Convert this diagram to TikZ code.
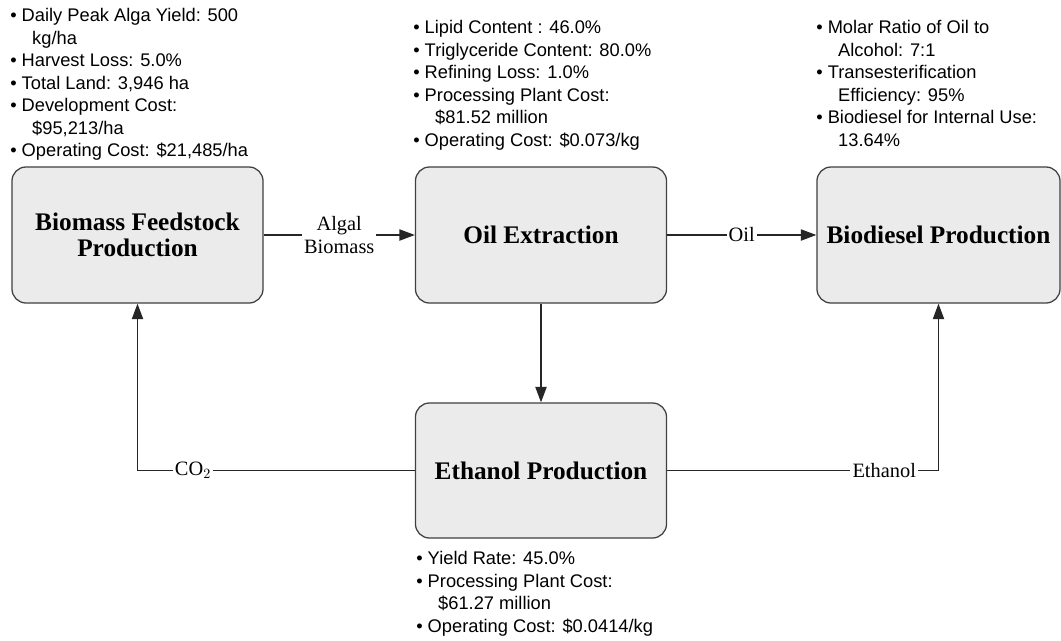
\documentclass[tikz,border=0pt]{standalone}
\usepackage{fontspec}
\setmainfont{Liberation Serif}
\setsansfont{Liberation Sans}
\usetikzlibrary{arrows.meta,positioning}

\newcommand{\wrapind}{\hspace*{1.2em}}

\tikzset{
  stage/.style={draw=black!75, fill=black!8, rounded corners=10pt, line width=0.9pt,
    minimum width=6.275cm, minimum height=3.4cm, align=center, inner sep=2pt,
    font=\fontsize{18}{19}\selectfont\bfseries},
  info/.style={anchor=north west, align=left, inner sep=0pt,
    font=\sffamily\fontsize{13}{16}\selectfont},
  flow/.style={draw=black!85, line width=0.9pt, -{Triangle[length=11pt,width=8pt]}},
  flowlabel/.style={fill=white, inner sep=1.5pt, align=center,
    font=\fontsize{14.5}{16}\selectfont},
}

\begin{document}
\begin{tikzpicture}[x=0.025cm, y=-0.025cm]
    \useasboundingbox (0,0) rectangle (1061,640);

    % Process stages
    \node[stage] (feedstock) at (137.5,235) {Biomass Feedstock\\Production};
    \node[stage] (extract) at (541,235) {Oil Extraction};
    \node[stage, minimum width=6.075cm] (biodiesel) at (938.5,235) {Biodiesel Production};
    \node[stage, minimum height=3.375cm] (ethanol) at (541,470.5) {Ethanol Production};

    % Stage parameters
    \node[info] (feedinfo) at (10,8) {\textbullet\ Daily Peak Alga Yield: 500\\\wrapind kg/ha\\
        \textbullet\ Harvest Loss: 5.0\%\\\textbullet\ Total Land: 3,946 ha\\
        \textbullet\ Development Cost:\\\wrapind \$95,213/ha\\
        \textbullet\ Operating Cost: \$21,485/ha};
    \node[info] (extractinfo) at (413,20) {\textbullet\ Lipid Content : 46.0\%\\
        \textbullet\ Triglyceride Content: 80.0\%\\\textbullet\ Refining Loss: 1.0\%\\
        \textbullet\ Processing Plant Cost:\\\wrapind \$81.52 million\\
        \textbullet\ Operating Cost: \$0.073/kg};
    \node[info] (biodieselinfo) at (816,20) {\textbullet\ Molar Ratio of Oil to\\\wrapind Alcohol: 7:1\\
        \textbullet\ Transesterification\\\wrapind Efficiency: 95\%\\
        \textbullet\ Biodiesel for Internal Use:\\\wrapind 13.64\%};
    \node[info] (ethanolinfo) at (416,551) {\textbullet\ Yield Rate: 45.0\%\\
        \textbullet\ Processing Plant Cost:\\\wrapind \$61.27 million\\
        \textbullet\ Operating Cost: \$0.0414/kg};

    % Material flows
    \draw[flow] (feedstock) -- node[flowlabel] {Algal\\Biomass} (extract);
    \draw[flow] (extract) -- node[flowlabel] {Oil} (biodiesel);
    \draw[flow] (extract) -- (ethanol);
    \draw[flow] (ethanol.west) -| node[flowlabel, pos=0.4] {CO$_2$} (feedstock.south);
    \draw[flow] (ethanol.east) -| node[flowlabel, pos=0.4] {Ethanol} (biodiesel.south);
\end{tikzpicture}
\end{document}
